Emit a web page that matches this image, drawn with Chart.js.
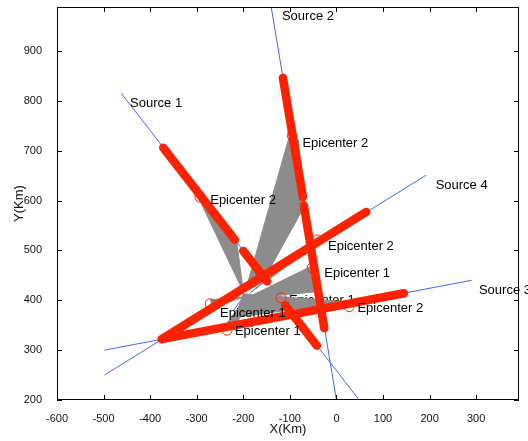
<!DOCTYPE html>
<html lang="en">
<head>
<meta charset="UTF-8">
<title>Epicenter locations</title>
<script src="https://cdn.jsdelivr.net/npm/chart.js"></script>
<style>
  html, body { margin: 0; padding: 0; background: #fff; }
  canvas { display: block; }
</style>
</head>
<body>
<canvas id="epicenter-chart" width="528" height="441"></canvas>
<script>
// axis ticks (km)
var xTicks = [-600, -500, -400, -300, -200, -100, 0, 100, 200, 300];
var yTicks = [200, 300, 400, 500, 600, 700, 800, 900];

// direction line of each source (km)
var sourceStartX = [-462, -140, -498, -498];
var sourceStartY = [815, 988, 300, 250];
var sourceEndX = [49, 0, 290, 193];
var sourceEndY = [200, 200, 440, 651];

// thick red pieces along the source lines
var redStartX = [-372, -200, -110, -115, -70, -375, -375];
var redStartY = [706, 499, 390, 846, 590, 322, 322];
var redEndX = [-218, -149, -42, -72, -26, 145, 64];
var redEndY = [521, 438, 309, 607, 344, 414, 577];

// grey fans between the centre and the estimates
var fanX = [
  [-301, -215, -200],
  [-102, -82, -67, -160, -196],
  [-41, -37, -185],
  [-52, -44, -196],
  [23, -200, -218],
  [-196, -241, -216],
  [-196, -271, -266]
];
var fanY = [
  [615, 525, 417],
  [726, 722, 591, 435, 417],
  [525, 515, 415],
  [469, 417, 403],
  [397, 413, 365],
  [405, 346, 340],
  [407, 401, 385]
];

// small mark at the centre
var centreX = [-221, -200, -178];
var centreY = [380, 406, 380];

// epicenter markers
var markerX = [-293, -95, -41, -52, 27, -119, -271, -235];
var markerY = [607, 730, 521, 465, 387, 405, 393, 340];

// text labels
var labelText = ['Source 1', 'Source 2', 'Source 3', 'Source 4',
  'Epicenter 2', 'Epicenter 2', 'Epicenter 2', 'Epicenter 1',
  'Epicenter 2', 'Epicenter 1', 'Epicenter 1', 'Epicenter 1'];
var labelX = [-443, -117, 306, 213, -271, -73, -18, -26, 45, -102, -250, -218];
var labelY = [794, 969, 419, 630, 601, 715, 508, 453, 384, 399, 374, 337];
var labelUnder = [false, false, false, false, false, false, false, false, false, true, false, false];

var red = '#ff2200';
var blue = '#4466ff';
var grey = '#8c8c8c';
var fontFamily = '"Liberation Sans", Arial, sans-serif';

var datasets = [];

var markerPoints = [];
for (var i = 0; i < markerX.length; i++) {
  markerPoints.push({ x: markerX[i], y: markerY[i] });
}
datasets.push({
  data: markerPoints,
  showLine: false,
  pointStyle: 'circle',
  pointRadius: 5,
  pointBorderColor: red,
  pointBackgroundColor: 'rgba(0,0,0,0)',
  pointBorderWidth: 1,
  order: 0
});

for (var i = 0; i < redStartX.length; i++) {
  datasets.push({
    data: [{ x: redStartX[i], y: redStartY[i] }, { x: redEndX[i], y: redEndY[i] }],
    showLine: true,
    borderColor: red,
    borderWidth: 8.5,
    borderCapStyle: 'round',
    pointRadius: 0,
    order: 1
  });
}

for (var i = 0; i < fanX.length; i++) {
  var pts = [];
  for (var j = 0; j < fanX[i].length; j++) pts.push({ x: fanX[i][j], y: fanY[i][j] });
  pts.push({ x: fanX[i][0], y: fanY[i][0] });
  datasets.push({
    data: pts,
    showLine: true,
    fill: 'shape',
    backgroundColor: grey,
    borderColor: grey,
    borderWidth: 1,
    pointRadius: 0,
    order: 2
  });
}

for (var i = 0; i < sourceStartX.length; i++) {
  datasets.push({
    data: [{ x: sourceStartX[i], y: sourceStartY[i] }, { x: sourceEndX[i], y: sourceEndY[i] }],
    showLine: true,
    borderColor: blue,
    borderWidth: 1,
    pointRadius: 0,
    order: 3
  });
}
var centrePts = [];
for (var i = 0; i < centreX.length; i++) centrePts.push({ x: centreX[i], y: centreY[i] });
datasets.push({
  data: centrePts,
  showLine: true,
  borderColor: blue,
  borderWidth: 1,
  pointRadius: 0,
  order: 3
});

function drawLabels(chart, under) {
  var ctx = chart.ctx;
  var xs = chart.scales.x, ys = chart.scales.y;
  ctx.save();
  ctx.fillStyle = '#000';
  ctx.font = '13px ' + fontFamily;
  ctx.textAlign = 'left';
  ctx.textBaseline = 'middle';
  for (var i = 0; i < labelText.length; i++) {
    if (labelUnder[i] !== under) continue;
    ctx.fillText(labelText[i], xs.getPixelForValue(labelX[i]), ys.getPixelForValue(labelY[i]));
  }
  ctx.restore();
}

var labelPlugin = {
  id: 'labels',
  beforeDatasetsDraw: function(chart) { drawLabels(chart, true); },
  afterDatasetsDraw: function(chart) { drawLabels(chart, false); }
};

// box, inward ticks and axis titles
var framePlugin = {
  id: 'frame',
  afterDraw: function(chart) {
    var ctx = chart.ctx;
    var a = chart.chartArea;
    var xs = chart.scales.x, ys = chart.scales.y;
    ctx.save();
    ctx.strokeStyle = '#000';
    ctx.lineWidth = 1;
    ctx.strokeRect(a.left + 0.5, a.top + 0.5, a.right - a.left - 1, a.bottom - a.top - 1);
    ctx.beginPath();
    xs.ticks.forEach(function(t) {
      var px = Math.round(xs.getPixelForValue(t.value)) + 0.5;
      ctx.moveTo(px, a.bottom); ctx.lineTo(px, a.bottom - 5);
      ctx.moveTo(px, a.top); ctx.lineTo(px, a.top + 5);
    });
    ys.ticks.forEach(function(t) {
      var py = Math.round(ys.getPixelForValue(t.value)) + 0.5;
      ctx.moveTo(a.left, py); ctx.lineTo(a.left + 5, py);
      ctx.moveTo(a.right, py); ctx.lineTo(a.right - 5, py);
    });
    ctx.stroke();

    ctx.fillStyle = '#111';
    ctx.font = '13px ' + fontFamily;
    ctx.textAlign = 'center';
    ctx.textBaseline = 'middle';
    ctx.fillText('X(Km)', (a.left + a.right) / 2, 429);
    ctx.translate(19, (a.top + a.bottom) / 2);
    ctx.rotate(-Math.PI / 2);
    ctx.fillText('Y(Km)', 0, 0);
    ctx.restore();
  }
};

var tickFont = { family: fontFamily, size: 11 };

var ctx = document.getElementById('epicenter-chart').getContext('2d');
var chart = new Chart(ctx, {
  type: 'scatter',
  data: { datasets: datasets },
  options: {
    responsive: false,
    animation: false,
    layout: { padding: { top: 7, right: 9, left: 0, bottom: 0 } },
    plugins: {
      legend: { display: false },
      tooltip: { enabled: false }
    },
    scales: {
      x: {
        type: 'linear',
        min: -600,
        max: 392,
        grid: { display: false },
        border: { display: false },
        ticks: {
          autoSkip: false,
          maxRotation: 0,
          padding: 4,
          color: '#111',
          font: tickFont
        },
        afterBuildTicks: function(scale) {
          scale.ticks = xTicks.map(function(v) { return { value: v }; });
        },
        afterFit: function(scale) {
          scale.height = 41;
          scale.paddingLeft = 0;
          scale.paddingRight = 0;
        }
      },
      y: {
        type: 'linear',
        min: 200,
        max: 988,
        grid: { display: false },
        border: { display: false },
        ticks: {
          autoSkip: false,
          padding: 7,
          color: '#111',
          font: tickFont
        },
        afterBuildTicks: function(scale) {
          scale.ticks = yTicks.map(function(v) { return { value: v }; });
        },
        afterFit: function(scale) {
          scale.width = 57;
          scale.paddingTop = 0;
          scale.paddingBottom = 0;
        }
      }
    }
  },
  plugins: [labelPlugin, framePlugin]
});
</script>
</body>
</html>
